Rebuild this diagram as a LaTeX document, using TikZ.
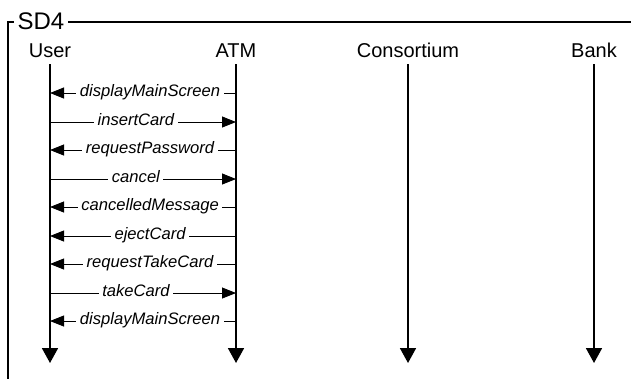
\documentclass[tikz,border=0pt]{standalone}
\usepackage{fontspec}
\setmainfont{Liberation Sans}
\usetikzlibrary{arrows.meta}

\begin{document}
\begin{tikzpicture}[x=1pt, y=-1pt,
		head/.style={anchor=base, inner sep=0pt, outer ysep=7pt, font=\fontsize{20}{24}\selectfont},
		lifeline/.style={line width=1.8pt, -{Triangle[length=15pt,width=16pt]}},
		msg/.style={line width=0.8pt, -{Triangle[length=14pt,width=11pt]}},
		lbl/.style={fill=white, inner xsep=3.5pt, inner ysep=0pt, text height=0.72em, text depth=0pt, font=\fontsize{16.6}{20}\itshape\selectfont}]
		\useasboundingbox (0,0) rectangle (631,378);
		% frame
		\draw [line width=1.8pt] (631,22) -- (8,22) -- (8,380);
		\node [fill=white, anchor=base, inner xsep=3.5pt, font=\fontsize{24}{28}\selectfont] (sd) at (41,29) {SD4};
		% lifelines
		\node [head] (user) at (50,57) {User};
		\node [head] (atm) at (236,57) {ATM};
		\node [head] (cons) at (408,57) {Consortium};
		\node [head] (bank) at (594,57) {Bank};
		\coordinate (end) at (0,363);
		\foreach \n in {user,atm,cons,bank}
			\draw [lifeline] (\n.south) -- (\n |- end);
		% messages
		\foreach \y/\a/\b/\txt in {93/atm/user/displayMainScreen, 122/user/atm/insertCard,
				150/atm/user/requestPassword, 179/user/atm/cancel, 207/atm/user/cancelledMessage,
				236/atm/user/ejectCard, 264/atm/user/requestTakeCard, 293/user/atm/takeCard,
				321/atm/user/displayMainScreen}
			\draw [msg] (\a |- 0,\y) -- (\b |- 0,\y) node [lbl, pos=0.462] {\txt};
\end{tikzpicture}
\end{document}
